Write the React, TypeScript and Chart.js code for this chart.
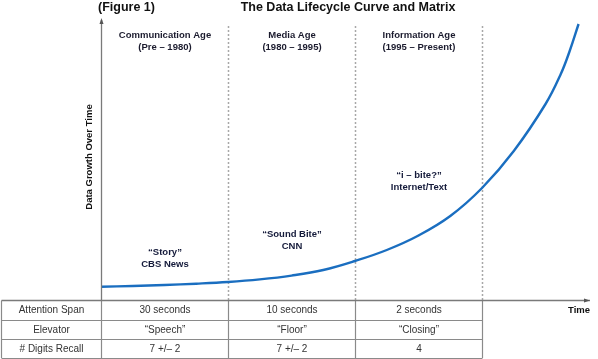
import React, { useEffect, useRef } from "react";
import { Chart, registerables } from "chart.js";

Chart.register(...registerables);

// Curve: x in era units (0 = start of Communication Age, 1 = 1980, 2 = 1995, 3 = present)
const curveX = [0, 0.25, 0.5, 0.75, 1.0, 1.25, 1.5, 1.75, 2.0, 2.25, 2.5, 2.75, 3.0, 3.25, 3.5, 3.62, 3.69, 3.76];
const curveY = [13.3, 14, 15, 16.3, 18, 20.6, 24.4, 30, 39, 50, 64.5, 84, 112, 149, 196, 226, 249, 276];

const eraBounds = [1, 2, 3];
const eraNames = ["Communication Age", "Media Age", "Information Age"];
const eraPeriods = ["(Pre – 1980)", "(1980 – 1995)", "(1995 – Present)"];
const mediaQuotes = ["“Story”", "“Sound Bite”", "“i – bite?”"];
const mediaSources = ["CBS News", "CNN", "Internet/Text"];
const mediaLabelY = [36, 54, 113];

const rowLabels = ["Attention Span", "Elevator", "# Digits Recall"];
const rowValues = [
  ["30 seconds", "10 seconds", "2 seconds"],
  ["“Speech”", "“Floor”", "“Closing”"],
  ["7 +/– 2", "7 +/– 2", "4"],
];

const X_MAX = 3.85;
const Y_MAX = 282;
const FONT = "'Liberation Sans', Arial, sans-serif";

const overlay = {
  id: "overlay",
  beforeDatasetsDraw(chart: any) {
    const ctx = chart.ctx;
    const xs = chart.scales.x;
    const area = chart.chartArea;
    ctx.save();
    // dotted era lines
    ctx.strokeStyle = "#a8a8a8";
    ctx.lineWidth = 1.5;
    ctx.setLineDash([2, 2]);
    eraBounds.forEach((b) => {
      const px = Math.round(xs.getPixelForValue(b)) + 0.5;
      ctx.beginPath();
      ctx.moveTo(px, area.top + 8);
      ctx.lineTo(px, area.bottom);
      ctx.stroke();
    });
    ctx.setLineDash([]);
    ctx.restore();
  },
  afterDatasetsDraw(chart: any) {
    const ctx = chart.ctx;
    const xs = chart.scales.x;
    const ys = chart.scales.y;
    const area = chart.chartArea;
    const H = chart.height;
    ctx.save();
    const grey = "#8a8a8a";
    const axisX = Math.round(xs.getPixelForValue(0)) + 0.5;
    const axisY = Math.round(ys.getPixelForValue(0)) + 0.5;
    const rowH = (H - 1 - axisY) / 3;
    const colX = [1.5, axisX, ...eraBounds.map((b) => Math.round(xs.getPixelForValue(b)) + 0.5)];

    // table grid
    ctx.strokeStyle = grey;
    ctx.lineWidth = 1.2;
    for (let r = 1; r <= 3; r++) {
      const y = Math.round(axisY + r * rowH) + 0.5;
      ctx.beginPath();
      ctx.moveTo(colX[0], y);
      ctx.lineTo(colX[colX.length - 1], y);
      ctx.stroke();
    }
    colX.forEach((cx) => {
      ctx.beginPath();
      ctx.moveTo(cx, axisY);
      ctx.lineTo(cx, H - 1);
      ctx.stroke();
    });

    // axes
    ctx.strokeStyle = "#7a7a7a";
    ctx.lineWidth = 1.3;
    ctx.beginPath();
    ctx.moveTo(axisX, area.bottom);
    ctx.lineTo(axisX, area.top + 2);
    ctx.stroke();
    ctx.beginPath();
    ctx.moveTo(colX[0], axisY);
    ctx.lineTo(area.right, axisY);
    ctx.stroke();
    ctx.fillStyle = "#555";
    ctx.beginPath();
    ctx.moveTo(axisX, area.top);
    ctx.lineTo(axisX - 2, area.top + 6);
    ctx.lineTo(axisX + 2, area.top + 6);
    ctx.closePath();
    ctx.fill();
    ctx.beginPath();
    ctx.moveTo(area.right, axisY);
    ctx.lineTo(area.right - 6, axisY - 2);
    ctx.lineTo(area.right - 6, axisY + 2);
    ctx.closePath();
    ctx.fill();

    // table text
    ctx.fillStyle = "#333";
    ctx.font = `10px ${FONT}`;
    ctx.textAlign = "center";
    ctx.textBaseline = "middle";
    for (let r = 0; r < 3; r++) {
      const cy = axisY + (r + 0.5) * rowH + 0.5;
      ctx.fillText(rowLabels[r], (colX[0] + colX[1]) / 2, cy);
      for (let c = 0; c < 3; c++) {
        ctx.fillText(rowValues[r][c], (colX[c + 1] + colX[c + 2]) / 2, cy);
      }
    }

    // era headers
    ctx.fillStyle = "#1b1b2e";
    ctx.font = `bold 9.5px ${FONT}`;
    for (let c = 0; c < 3; c++) {
      const cx = (colX[c + 1] + colX[c + 2]) / 2;
      ctx.fillText(eraNames[c], cx, 35);
      ctx.fillText(eraPeriods[c], cx, 47);
    }

    // media labels
    ctx.fillStyle = "#141a3a";
    for (let c = 0; c < 3; c++) {
      const cx = (colX[c + 1] + colX[c + 2]) / 2;
      const cy = ys.getPixelForValue(mediaLabelY[c]);
      ctx.fillText(mediaQuotes[c], cx, cy - 12);
      ctx.fillText(mediaSources[c], cx, cy);
    }

    // titles
    ctx.fillStyle = "#111";
    ctx.font = `bold 12.5px ${FONT}`;
    ctx.textAlign = "left";
    ctx.fillText("(Figure 1)", 98, 8);
    ctx.textAlign = "center";
    ctx.fillText("The Data Lifecycle Curve and Matrix", 348, 8);

    // axis titles
    ctx.font = `bold 9.5px ${FONT}`;
    ctx.fillText("Time", 579, 310);
    ctx.save();
    ctx.translate(89, 157);
    ctx.rotate(-Math.PI / 2);
    ctx.fillText("Data Growth Over Time", 0, 0);
    ctx.restore();

    ctx.restore();
  },
};

export default function App() {
  const ref = useRef<HTMLCanvasElement>(null);
  useEffect(() => {
    document.body.style.margin = "0";
    const chart = new Chart(ref.current as HTMLCanvasElement, {
      type: "line",
      data: {
        datasets: [
          {
            data: curveX.map((x, i) => ({ x, y: curveY[i] })),
            borderColor: "#1a6ec0",
            borderWidth: 2.4,
            pointRadius: 0,
            tension: 0.4,
            fill: false,
          },
        ],
      },
      options: {
        animation: false,
        responsive: false,
        layout: { padding: { left: 101, right: 8, top: 18, bottom: 59 } },
        plugins: { legend: { display: false }, tooltip: { enabled: false }, title: { display: false } },
        scales: {
          x: { type: "linear", min: 0, max: X_MAX, display: false },
          y: { min: 0, max: Y_MAX, display: false },
        },
      },
      plugins: [overlay],
    });
    return () => chart.destroy();
  }, []);
  return (
    <div style={{ position: "fixed", left: 0, top: 0, width: 598, height: 359, background: "#fff" }}>
      <canvas ref={ref} width={598} height={359} />
    </div>
  );
}
